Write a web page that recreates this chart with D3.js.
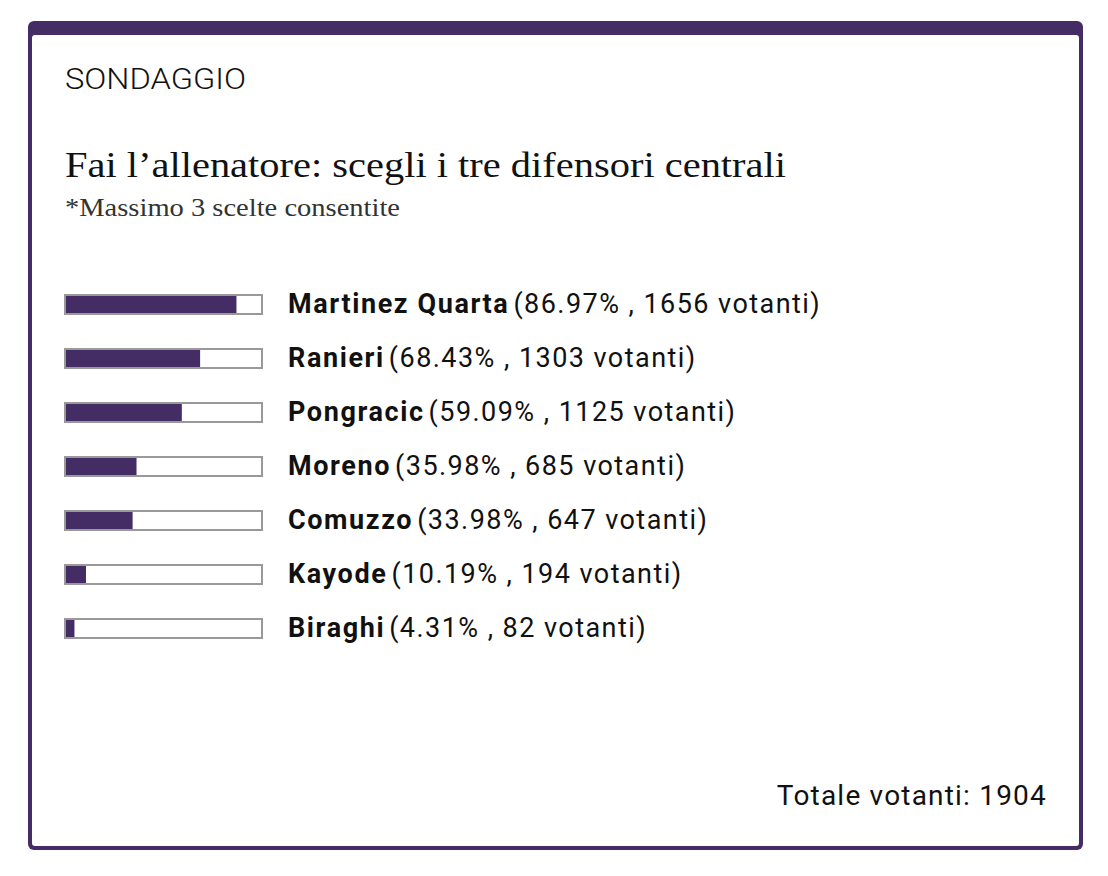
<!DOCTYPE html>
<html>
<head>
<meta charset="utf-8">
<script src="https://cdn.jsdelivr.net/npm/d3@7"></script>
<style>
  html, body { margin: 0; padding: 0; background: #fff; }
  svg { display: block; }
</style>
</head>
<body>
<svg id="chart" width="1108" height="876"></svg>
<script>
const kicker = "SONDAGGIO";
const title = "Fai l’allenatore: scegli i tre difensori centrali";
const subtitle = "*Massimo 3 scelte consentite";
const names = ["Martinez Quarta", "Ranieri", "Pongracic", "Moreno", "Comuzzo", "Kayode", "Biraghi"];
const percents = [86.97, 68.43, 59.09, 35.98, 33.98, 10.19, 4.31];
const percentLabels = ["86.97%", "68.43%", "59.09%", "35.98%", "33.98%", "10.19%", "4.31%"];
const votes = [1656, 1303, 1125, 685, 647, 194, 82];
const totalVotes = 1904;

const purple = "#442c64";
const svg = d3.select("#chart");

// frame
svg.append("rect").attr("x", 28).attr("y", 21).attr("width", 1055).attr("height", 829)
  .attr("rx", 6).attr("fill", purple);
svg.append("rect").attr("x", 32).attr("y", 35).attr("width", 1047).attr("height", 811)
  .attr("rx", 3).attr("fill", "#fff");

const sans = "Roboto, 'Open Sans', sans-serif";
const serif = "'Liberation Serif', 'DejaVu Serif', serif";

svg.append("text").attr("x", 65).attr("y", 89).text(kicker)
  .attr("font-family", sans).attr("font-weight", 300).attr("font-size", 29)
  .attr("fill", "#111").attr("textLength", 181).attr("lengthAdjust", "spacingAndGlyphs");

svg.append("text").attr("x", 65).attr("y", 177).text(title)
  .attr("font-family", serif).attr("font-size", 35)
  .attr("fill", "#111").attr("textLength", 721).attr("lengthAdjust", "spacingAndGlyphs");

svg.append("text").attr("x", 65).attr("y", 216).text(subtitle)
  .attr("font-family", serif).attr("font-size", 25)
  .attr("fill", "#333").attr("textLength", 335).attr("lengthAdjust", "spacingAndGlyphs");

// scales
const y = d3.scaleBand().domain(names).range([277.5, 655.5]);
const trackW = 196;
const x = d3.scaleLinear().domain([0, 100]).range([0, trackW]);

const rows = svg.append("g").selectAll("g").data(names).join("g")
  .attr("transform", d => `translate(0,${y(d) + y.bandwidth() / 2})`);

rows.append("rect")
  .attr("x", 65).attr("y", -9.5).attr("width", trackW + 1).attr("height", 19)
  .attr("fill", "#fff").attr("stroke", "#999").attr("stroke-width", 2);

rows.append("rect")
  .attr("x", 66).attr("y", -8.5)
  .attr("width", (d, i) => x(percents[i]))
  .attr("height", 17).attr("fill", purple);

const labels = rows.append("text")
  .attr("x", 288).attr("y", 8.5)
  .attr("font-family", sans).attr("font-size", 27).attr("fill", "#111");
labels.append("tspan").attr("font-weight", 700)
  .attr("letter-spacing", 1.6).text(d => d);
labels.append("tspan").attr("font-weight", 400).attr("letter-spacing", 1.45)
  .attr("dx", 4)
  .text((d, i) => `(${percentLabels[i]} , ${votes[i]} votanti)`);

svg.append("text").attr("x", 1047).attr("y", 805).attr("text-anchor", "end")
  .attr("font-family", sans).attr("font-size", 28).attr("font-weight", 400)
  .attr("fill", "#111").attr("letter-spacing", 1.2)
  .text(`Totale votanti: ${totalVotes}`);
</script>
</body>
</html>
